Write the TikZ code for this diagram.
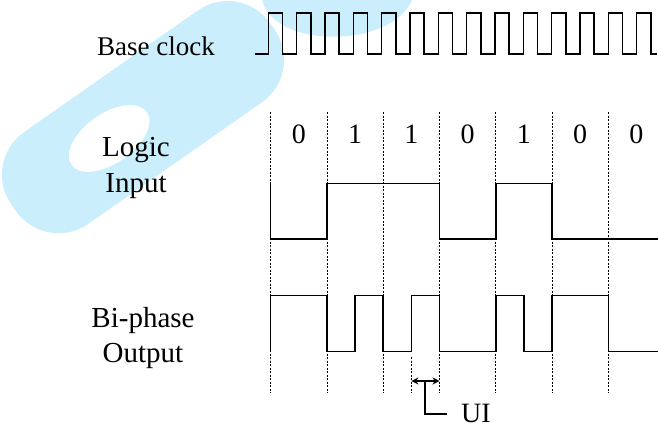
\documentclass[tikz,border=0pt]{standalone}
\usepackage{fontspec}
\setmainfont{Liberation Serif}
\usetikzlibrary{arrows.meta}
\definecolor{wm}{RGB}{202,238,252}
\begin{document}
\begin{tikzpicture}[x=1pt,y=-1pt,
  sig/.style={line width=1.5pt, line join=miter},
  gridline/.style={line width=0.9pt, dash pattern=on 2pt off 1.5pt},
  lbl/.style={font=\fontsize{29}{35.5}\selectfont, align=center, inner sep=0pt},
  bitlbl/.style={font=\fontsize{28}{34}\selectfont, inner sep=0pt},
  small/.style={font=\fontsize{27}{30}\selectfont, inner sep=0pt},
  tip/.style={{Stealth[length=7pt,width=7pt]}-{Stealth[length=7pt,width=7pt]}}
]
\useasboundingbox (0,0) rectangle (658,428);
% ---- watermark (approximate), drawn in a tilted frame ----
\begin{scope}[x={(0.8192pt,0.5736pt)}, y={(0.5736pt,-0.8192pt)}]
  \fill[wm, even odd rule, rounded corners=52]
        (-108,122) -- (208,122) -- (208,234) -- (-108,234) -- cycle
        (10,176) ellipse[x radius=46, y radius=25];
\end{scope}
\fill[wm] (262,0) .. controls (275,50) and (392,48) .. (412,0) -- cycle;
% ---- base clock ----
\node[small, anchor=base] (bc) at (156,56) {Base clock};
\draw[sig] (255,54) -- (268.3,54)
  foreach \i in {0,...,12} { -- ++(0,-41) -- ++(14.17,0) -- ++(0,41) -- ++(14.17,0) }
  -- ++(0,-41) -- ++(14.17,0) -- ++(0,41) -- (657,54);
% ---- bit boundaries ----
\foreach \x in {270.7,327.0,383.2,439.5,495.8,552.0,608.3}
  \draw[gridline] (\x,112) -- (\x,393);
\draw[gridline] (411.4,357) -- (411.4,393);
% ---- bit labels ----
\foreach \x/\b [count=\n] in {298.8/0,355.1/1,411.4/1,467.6/0,523.9/1,580.2/0,636.4/0}
  \node[bitlbl] (b\n) at (\x,134) {\b};
% ---- row labels ----
\node[lbl] (li) at (136,168) {Logic\\Input};
\node[lbl] (bo) at (143,338) {Bi-phase\\Output};
% ---- logic input ----
\draw[sig] (270.7,183.3) -- (270.7,239) -- (327.0,239) -- (327.0,183.3)
  -- (439.5,183.3) -- (439.5,239) -- (495.8,239) -- (495.8,183.3)
  -- (552.0,183.3) -- (552.0,239) -- (658,239);
% ---- bi-phase output ----
\draw[sig] (270.7,351.7) -- (270.7,295.7) -- (327.0,295.7) -- (327.0,351.7)
  -- (355.1,351.7) -- (355.1,295.7) -- (383.2,295.7) -- (383.2,351.7)
  -- (411.4,351.7) -- (411.4,295.7) -- (439.5,295.7) -- (439.5,351.7)
  -- (495.8,351.7) -- (495.8,295.7) -- (523.9,295.7) -- (523.9,351.7)
  -- (552.0,351.7) -- (552.0,295.7) -- (608.3,295.7) -- (608.3,351.7)
  -- (658,351.7);
% ---- UI marker ----
\coordinate (uil) at (411.4,381);
\coordinate (uir) at (439.5,381);
\coordinate (uim) at (425,381);
\coordinate (uie) at (447,414);
\node[bitlbl, anchor=base west] (ui) at (461,422.5) {UI};
\draw[line width=1.2pt, tip] (uil) -- (uir);
\draw[line width=1.2pt] (uim) |- (uie);
\end{tikzpicture}
\end{document}
